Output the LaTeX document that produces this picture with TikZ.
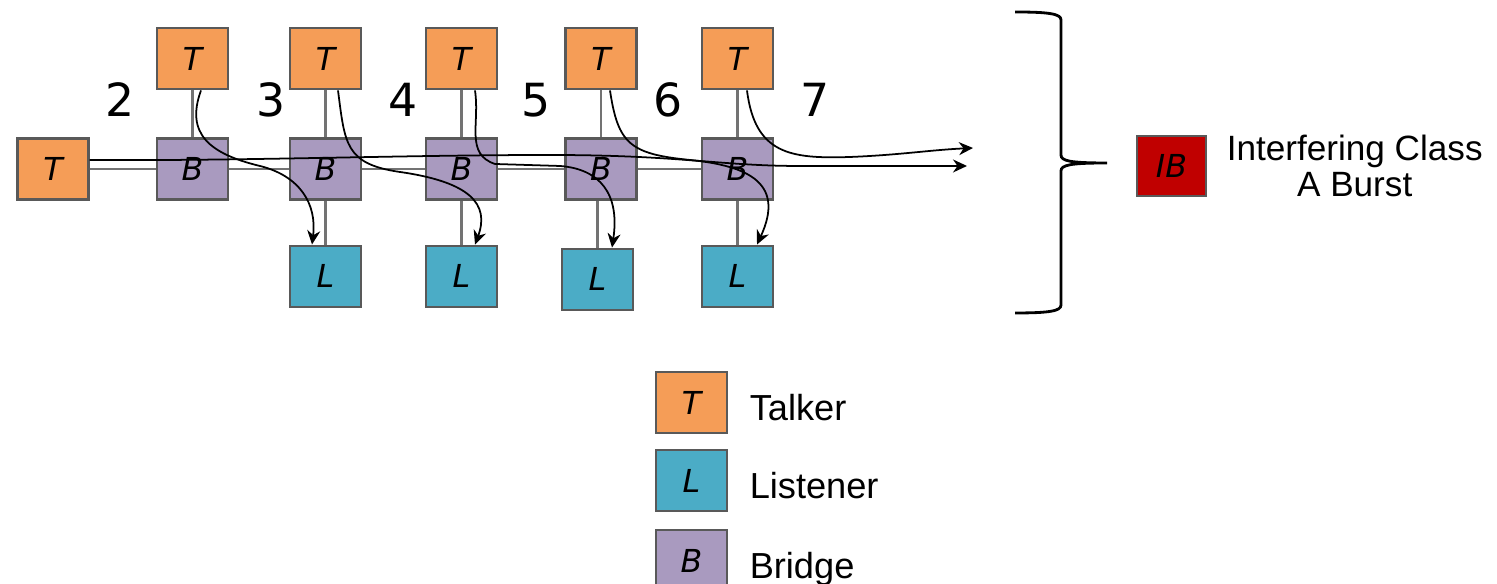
\documentclass[tikz,border=0pt]{standalone}
\usepackage{fontspec}
\setmainfont{Liberation Sans}
\newfontfamily\dejavu{DejaVu Sans}
\usetikzlibrary{arrows.meta,positioning}

\definecolor{talkerorange}{RGB}{245,157,87}
\definecolor{listenerteal}{RGB}{75,172,198}
\definecolor{bridgepurple}{RGB}{169,154,191}
\definecolor{burstred}{RGB}{192,0,0}

\begin{document}
\begin{tikzpicture}[
  node distance=0.47cm and 0.2cm,
  box/.style={rectangle, draw=black!65, line width=0.6pt, minimum width=0.71cm, minimum height=0.61cm, inner sep=0pt, font=\dejavu\itshape\fontsize{9}{10}\selectfont},
  talker/.style={box, fill=talkerorange},
  listener/.style={box, fill=listenerteal},
  bridge/.style={box, fill=bridgepurple},
  link/.style={draw=black!55, line width=0.6pt},
  flow/.style={-{Stealth[length=1.4mm, width=1.3mm]}, line width=0.5pt},
  hop/.style={font=\dejavu\fontsize{13}{15}\selectfont},
  caption/.style={font=\fontsize{10}{10.3}\selectfont, align=center, inner sep=0pt},
  legendtext/.style={font=\fontsize{10.3}{12}\selectfont, inner sep=0pt, text depth=0pt, yshift=-0.05cm}
]
\useasboundingbox (0,0) rectangle (14.97,5.84);

% the bridge chain with its talkers and listeners
\node[talker] (tleft) at (0.53,4.15) {T};
\node[bridge] (b1) at (1.925,4.15) {B};
\node[bridge] (b2) at (3.255,4.15) {B};
\node[bridge] (b3) at (4.615,4.15) {B};
\node[bridge] (b4) at (6.01,4.15) {B};
\node[bridge] (b5) at (7.375,4.15) {B};

\node[talker, above=of b1] (t1) {T};
\node[talker, above=of b2] (t2) {T};
\node[talker, above=of b3] (t3) {T};
\node[talker, above=of b4] (t4) {T};
\node[talker, above=of b5] (t5) {T};

\node[listener, below=0.44cm of b2] (l2) {L};
\node[listener, below=0.44cm of b3] (l3) {L};
\node[listener, below=0.44cm of b4, xshift=-0.035cm, yshift=-0.03cm] (l4) {L};
\node[listener, below=0.44cm of b5] (l5) {L};

% hop counts
\node[hop] (h2) at (1.20,4.84) {2};
\node[hop] (h3) at (2.71,4.84) {3};
\node[hop] (h4) at (4.03,4.84) {4};
\node[hop] (h5) at (5.36,4.84) {5};
\node[hop] (h6) at (6.68,4.84) {6};
\node[hop] (h7) at (8.15,4.84) {7};

\draw[link] (tleft) -- (b1) -- (b2) -- (b3) -- (b4) -- (b5);
\draw[link] (t1) -- (b1);
\draw[link] (t2) -- (b2);
\draw[link] (t3) -- (b3);
\draw[link] (t4) -- (b4);
\draw[link] (t5) -- (b5);
\draw[link] (b2) -- (l2);
\draw[link] (b3) -- (l3);
\draw[link] (l4) -- (l4 |- b4.south);
\draw[link] (b5) -- (l5);

% streams
\coordinate (out1) at (9.67,4.18);
\coordinate (out2) at (9.73,4.36);

\draw[flow] ([yshift=0.09cm]tleft.east) .. controls (2.5,4.23) and (4,4.29) .. (5.5,4.29)
  .. controls (6.8,4.29) and (7.2,4.18) .. (8.0,4.18) -- (out1);
\draw[flow] ([xshift=0.085cm]t1.south) .. controls (1.85,4.5) and (2.1,4.3) .. (2.6,4.18)
  .. controls (3.0,4.08) and (3.17,3.8) .. ([xshift=-0.135cm]l2.north);
\draw[flow] ([xshift=0.125cm]t2.south) .. controls (3.45,4.4) and (3.45,4.2) .. (4.0,4.12)
  .. controls (4.7,4.02) and (4.9,3.8) .. ([xshift=0.135cm]l3.north);
\draw[flow] ([xshift=0.135cm]t3.south) .. controls (4.8,4.6) and (4.65,4.3) .. (4.95,4.2)
  -- (5.6,4.18) .. controls (6.0,4.15) and (6.2,3.9) .. ([xshift=0.145cm]l4.north);
\draw[flow] ([xshift=0.09cm]t4.south) .. controls (6.18,4.4) and (6.3,4.3) .. (6.9,4.24)
  .. controls (7.5,4.18) and (7.85,4.0) .. ([xshift=0.195cm]l5.north);
\draw[flow] ([xshift=0.095cm]t5.south) .. controls (7.55,4.3) and (7.9,4.25) .. (8.5,4.27)
  .. controls (9.0,4.29) and (9.3,4.34) .. (out2);

% brace and burst
\draw[line width=0.8pt] (10.15,5.72) .. controls (10.5,5.72) and (10.61,5.70) .. (10.61,5.64)
  -- (10.61,4.29) .. controls (10.61,4.23) and (10.7,4.21) .. (11.07,4.21)
  .. controls (10.7,4.21) and (10.61,4.19) .. (10.61,4.13)
  -- (10.61,2.79) .. controls (10.61,2.73) and (10.5,2.71) .. (10.15,2.71);

\node[box, fill=burstred, minimum width=0.69cm, minimum height=0.60cm] (ib) at (11.715,4.18) {IB};
\node[caption, right=0.19cm of ib] (ibtext) {Interfering Class\\A Burst};

% legend
\node[talker] (lgt) at (6.915,1.815) {T};
\node[listener, below=0.15cm of lgt] (lgl) {L};
\node[bridge, below=0.17cm of lgl] (lgb) {B};
\node[legendtext, right=0.21cm of lgt] (lgttext) {Talker};
\node[legendtext, right=0.21cm of lgl] (lgltext) {Listener};
\node[legendtext, right=0.21cm of lgb] (lgbtext) {Bridge};
\end{tikzpicture}
\end{document}
